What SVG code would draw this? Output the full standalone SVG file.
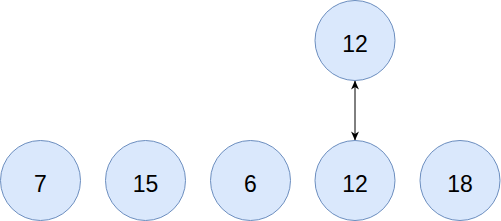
<svg xmlns="http://www.w3.org/2000/svg" width="501" height="221" viewBox="0 0 501 221">
<style>
.n{fill:#dae8fc;stroke:#6c8ebf;stroke-width:1}
.t{font-family:"Liberation Sans",Arial,sans-serif;font-size:23px;fill:#000;text-anchor:middle}
.e{stroke:#000;stroke-width:1;fill:none}
</style>
<defs>
<marker id="a" viewBox="0 0 10 10" refX="9.5" refY="5" markerWidth="9" markerHeight="9" orient="auto-start-reverse" markerUnits="userSpaceOnUse">
<path d="M0,0.6 L10,5 L0,9.4 L2.8,5 Z" fill="#000"/>
</marker>
</defs>
<g id="n-top"><circle class="n" cx="355" cy="40.5" r="40"/><text class="t" x="355" y="52">12</text></g>
<g id="n-7"><circle class="n" cx="40.5" cy="180.5" r="40"/><text class="t" x="40.5" y="192">7</text></g>
<g id="n-15"><circle class="n" cx="145.5" cy="180.5" r="40"/><text class="t" x="145.5" y="192">15</text></g>
<g id="n-6"><circle class="n" cx="250.5" cy="180.5" r="40"/><text class="t" x="250.5" y="192">6</text></g>
<g id="n-12"><circle class="n" cx="355" cy="180.5" r="40"/><text class="t" x="355" y="192">12</text></g>
<g id="n-18"><circle class="n" cx="460" cy="180.5" r="40"/><text class="t" x="460" y="192">18</text></g>
<g id="connectors"><line class="e" x1="355" y1="81" x2="355" y2="140" marker-start="url(#a)" marker-end="url(#a)"/></g>
</svg>
